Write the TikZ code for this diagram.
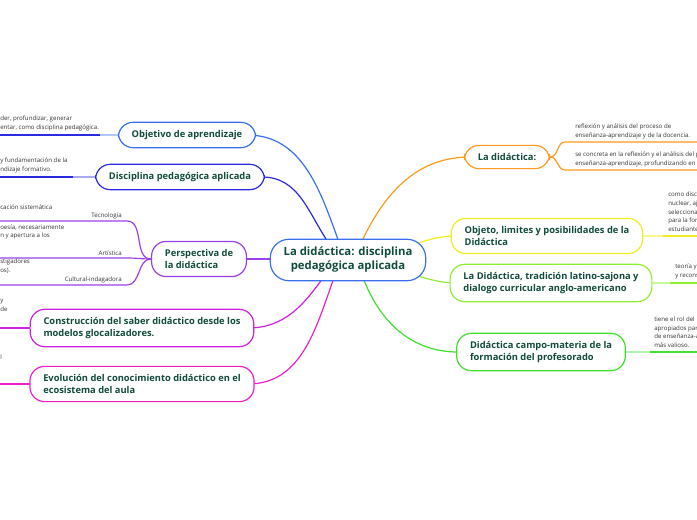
\documentclass[tikz,border=0pt]{standalone}
\usepackage{fontspec}
\setmainfont{Open Sans}
\begin{document}
\begin{tikzpicture}[x=0.75pt,y=-0.75pt,
  topic/.style={draw=#1,line width=0.9pt,rounded corners=11pt,fill=white,
    font=\fontsize{7}{9}\selectfont\bfseries,text=txt,align=left,inner xsep=10pt,inner ysep=6pt},
  small/.style={font=\fontsize{4.6}{6.6}\selectfont,text=black!80,align=left,inner sep=0pt},
  link/.style={line width=0.9pt,#1}]
\definecolor{txt}{HTML}{114B3C}
\definecolor{cblue}{HTML}{3A6FF0}
\definecolor{cind}{HTML}{2A2AE0}
\definecolor{cpur}{HTML}{9A40E8}
\definecolor{cmag}{HTML}{D020E0}
\definecolor{cpink}{HTML}{F020C8}
\definecolor{corg}{HTML}{FF9A20}
\definecolor{cyel}{HTML}{EEEE20}
\definecolor{clim}{HTML}{90EE30}
\definecolor{cgrn}{HTML}{40E030}
\useasboundingbox (0,0) rectangle (697,520);
\clip (0,0) rectangle (697,520);

% connectors from the centre (drawn first, under the nodes)
\coordinate (rc) at (348,260);
\draw[link=cblue] (247,135) to[out=0,in=110] (340,245);
\draw[link=cind] (262,177) to[out=0,in=125] (330,245);
\draw[link=cpur] (247,259) -- (300,259);
\draw[link=cmag] (248,328) to[out=0,in=-125] (325,275);
\draw[link=cpink] (248,384) to[out=0,in=-110] (335,275);
\draw[link=corg] (470,157) to[out=180,in=65] (360,245);
\draw[link=cyel] (457,236) to[out=180,in=20] (400,250);
\draw[link=clim] (457,283) to[out=180,in=-10] (400,272);
\draw[link=cgrn] (458,352) to[out=180,in=-70] (362,275);

% central node
\node[topic=cblue,rounded corners=14pt,font=\fontsize{8.5}{10.5}\selectfont\bfseries,align=center] (root) at (rc) {La didáctica: disciplina\\pedagógica aplicada};

% left branches
\node[topic=cblue] (obj) at (187,135) {Objetivo de aprendizaje};
\node[topic=cind] (disc) at (180,177) {Disciplina pedagógica aplicada};
\node[topic=cpur] (persp) at (199,259) {Perspectiva de\\la didáctica};
\node[topic=cmag] (cons) at (142,328) {Construcción del saber didáctico desde los\\modelos glocalizadores.};
\node[topic=cpink] (evol) at (142,384) {Evolución del conocimiento didáctico en el\\ecosistema del aula};

% right branches
\node[topic=corg] (ladid) at (507,157) {La didáctica:};
\node[topic=cyel] (objeto) at (547,236) {Objeto, limites y posibilidades de la\\Didáctica};
\node[topic=clim] (trad) at (551,283) {La Didáctica, tradición latino-sajona y\\dialogo curricular anglo-americano};
\node[topic=cgrn] (campo) at (541,352) {Didáctica campo-materia de la\\formación del profesorado};

% left leaves
\coordinate (objL) at (0,135);
\draw[link=cblue!40] (obj.west) -- (100,135);
\draw[link=cind] (100,135) -- (objL);
\node[small,anchor=south west] (objT) at (0,131) {der, profundizar, generar\\entar, como disciplina pedagógica.};
\coordinate (discL) at (0,177);
\draw[link=cind!40] (disc.west) -- (73,177);
\draw[link=cind] (73,177) -- (discL);
\node[small,anchor=south west] (discT) at (0,173) {y fundamentación de la\\ndizaje formativo.};

\foreach \yy/\lab/\txt in {221/Tecnología/{cación sistemática},
  258/Artística/{oesía, necesariamente\\n y apertura a los\\},
  285/Cultural-indagadora/{stigadores\\os).}}{
  \coordinate (pL) at (0,\yy);
  \draw[link=cpur] (persp.west) to[out=180,in=0] (127,\yy) -- (pL);
  \node[small,anchor=south east] at (122,\yy-2) {\lab};
  \node[small,anchor=south west] at (0,\yy-11) {\txt};
}
\draw[link=cmag!40] (cons.west) -- (30,328);
\draw[link=cmag] (30,328) -- (0,328);
\node[small,anchor=north west] (consT) at (0,299) {y\\de};
\draw[link=cpink!40] (evol.west) -- (30,384);
\draw[link=cpink] (30,384) -- (0,384);
\node[small,anchor=north west] (evolT) at (0,355) {l};

% right leaves
\draw[link=corg] (ladid.east) to[out=0,in=180] (565,142) -- (697,142);
\draw[link=corg] (ladid.east) to[out=0,in=180] (565,170) -- (697,170);
\node[small,anchor=south west] (ladT1) at (575,139) {reflexión y análisis del proceso de\\enseñanza-aprendizaje y de la docencia.};
\node[small,anchor=south west] (ladT2) at (575,167) {se concreta en la reflexión y el análisis del proceso de\\enseñanza-aprendizaje, profundizando en su};
\draw[link=cyel!50] (objeto.east) -- (663,236);
\draw[link=cyel] (663,236) -- (697,236);
\node[small,anchor=south west] (objetoT) at (668,232) {como disciplina\\nuclear, ajustada\\selecciona\\para la formación\\estudiante};
\draw[link=clim!50] (trad.east) -- (670,283);
\draw[link=clim] (670,283) -- (697,283);
\node[small,anchor=south west] (tradT) at (675,279) {teoría y\\y reconstrucción};
\draw[link=cgrn!40] (campo.east) -- (650,352);
\draw[link=cgrn] (650,352) -- (697,352);
\node[small,anchor=south west] (campoT) at (654,348) {tiene el rol del\\apropiados para\\de enseñanza-aprendizaje\\más valioso.};
\end{tikzpicture}
\end{document}
